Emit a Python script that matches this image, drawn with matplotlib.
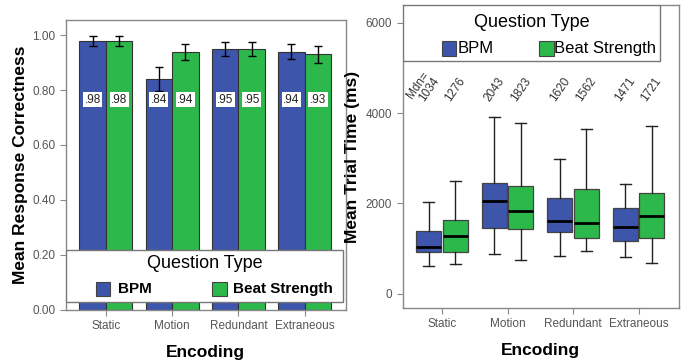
import matplotlib
matplotlib.use("Agg")
import matplotlib.pyplot as plt
from matplotlib.patches import Rectangle
import numpy as np

plt.rcParams["font.family"] = ["Liberation Sans", "DejaVu Sans"]

# categories and groups
encodings = ["Static", "Motion", "Redundant", "Extraneous"]
groups = ["BPM", "Beat Strength"]
colors = ["#3d55ab", "#2db84b"]

# left panel: mean correctness with error bars
correct_bpm = [0.98, 0.84, 0.95, 0.94]
correct_beat = [0.98, 0.94, 0.95, 0.93]
err_bpm = [0.018, 0.043, 0.027, 0.028]
err_beat = [0.018, 0.029, 0.027, 0.031]
lbl_bpm = [".98", ".84", ".95", ".94"]
lbl_beat = [".98", ".94", ".95", ".93"]

# right panel: box plot stats (ms)
whislo_bpm = [620, 880, 835, 806]
q1_bpm = [930, 1448, 1360, 1160]
med_bpm = [1034, 2043, 1620, 1471]
q3_bpm = [1395, 2452, 2113, 1898]
whishi_bpm = [2020, 3920, 2976, 2423]
whislo_beat = [651, 746, 946, 687]
q1_beat = [930, 1433, 1240, 1240]
med_beat = [1276, 1823, 1562, 1721]
q3_beat = [1632, 2392, 2326, 2237]
whishi_beat = [2490, 3787, 3641, 3721]

gray = "#555555"
fig = plt.figure(figsize=(6.86, 3.62), dpi=100)

def style_axes(ax):
    for s in ax.spines.values():
        s.set_color("#888888")
        s.set_linewidth(1.0)
    ax.tick_params(colors="#888888", labelcolor=gray, labelsize=8.5, length=4, direction="out")
    ax.set_xticks(range(4))
    ax.set_xticklabels(encodings)
    ax.set_xlim(-0.6, 3.62)
    ax.set_xlabel("Encoding", fontsize=12.5, fontweight="bold", labelpad=9)

def legend_box(ax, x0, y0, x1, y1, ty, ey, px, tx, bold, tsize, esize, ph):
    ax.add_patch(Rectangle((x0, y0), x1 - x0, y1 - y0, transform=ax.transAxes,
                           facecolor="white", edgecolor="#777777", lw=1.0, zorder=10))
    ax.text((x0 + x1) / 2, ty, "Question Type", transform=ax.transAxes, ha="center",
            va="center", fontsize=tsize, zorder=11)
    for i in range(2):
        ax.add_patch(Rectangle((px[i], ey - ph / 2), 0.052, ph, transform=ax.transAxes,
                               facecolor=colors[i], edgecolor="#444444", lw=0.8, zorder=11))
        ax.text(tx[i], ey, groups[i], transform=ax.transAxes, ha="left", va="center",
                fontsize=esize, fontweight="bold" if bold else "normal", zorder=11)

# ---- left panel
ax1 = fig.add_axes([0.0962, 0.1445, 0.408, 0.800])
x = np.arange(4)
w = 0.4
ax1.bar(x - w / 2, correct_bpm, w, color=colors[0], edgecolor="#333333", lw=0.8)
ax1.bar(x + w / 2, correct_beat, w, color=colors[1], edgecolor="#333333", lw=0.8)
ax1.errorbar(x - w / 2, correct_bpm, yerr=err_bpm, fmt="none", ecolor="black", elinewidth=1, capsize=3)
ax1.errorbar(x + w / 2, correct_beat, yerr=err_beat, fmt="none", ecolor="black", elinewidth=1, capsize=3)
for i in range(4):
    for dx, t in ((-w / 2, lbl_bpm[i]), (w / 2, lbl_beat[i])):
        ax1.text(i + dx, 0.765, t, ha="center", va="center", fontsize=8.5, color="#222222",
                 bbox=dict(facecolor="white", edgecolor="none", pad=1.0))
ax1.set_ylim(0, 1.055)
ax1.set_yticks([0, 0.2, 0.4, 0.6, 0.8, 1.0])
ax1.set_yticklabels(["0.00", "0.20", "0.40", "0.60", "0.80", "1.00"])
style_axes(ax1)
ax1.set_ylabel("Mean Response Correctness", fontsize=12.5, fontweight="bold", labelpad=3)
legend_box(ax1, 0.0, 0.028, 0.99, 0.206, 0.161, 0.071, [0.106, 0.522], [0.185, 0.598],
           True, 13, 11, 0.048)

# ---- right panel
ax2 = fig.add_axes([0.587, 0.149, 0.403, 0.837])
stats_bpm = [dict(whislo=a, q1=b, med=c, q3=d, whishi=e, fliers=[])
             for a, b, c, d, e in zip(whislo_bpm, q1_bpm, med_bpm, q3_bpm, whishi_bpm)]
stats_beat = [dict(whislo=a, q1=b, med=c, q3=d, whishi=e, fliers=[])
              for a, b, c, d, e in zip(whislo_beat, q1_beat, med_beat, q3_beat, whishi_beat)]
for stats, off, col in ((stats_bpm, -0.2, colors[0]), (stats_beat, 0.2, colors[1])):
    ax2.bxp(stats, positions=x + off, widths=0.38, capwidths=0.17, patch_artist=True,
            showfliers=False, manage_ticks=False,
            boxprops=dict(facecolor=col, edgecolor="#444444", lw=0.9),
            medianprops=dict(color="black", lw=2),
            whiskerprops=dict(color="#222222", lw=1),
            capprops=dict(color="#222222", lw=1))
for i in range(4):
    ax2.text(i - 0.2, 4520, str(med_bpm[i]), rotation=55, ha="center", va="center", fontsize=8.5, color="#333333")
    ax2.text(i + 0.2, 4520, str(med_beat[i]), rotation=55, ha="center", va="center", fontsize=8.5, color="#333333")
ax2.text(-0.37, 4620, "Mdn=", rotation=55, ha="center", va="center", fontsize=8.5, color="#333333")
ax2.set_ylim(-317, 6390)
ax2.set_yticks([0, 2000, 4000, 6000])
style_axes(ax2)
ax2.set_ylabel("Mean Trial Time (ms)", fontsize=12.5, fontweight="bold", labelpad=4)
legend_box(ax2, 0.0, 0.815, 0.931, 1.0, 0.944, 0.858, [0.141, 0.494], [0.198, 0.549],
           False, 13, 12, 0.05)

plt.savefig("out.png", dpi=100)
